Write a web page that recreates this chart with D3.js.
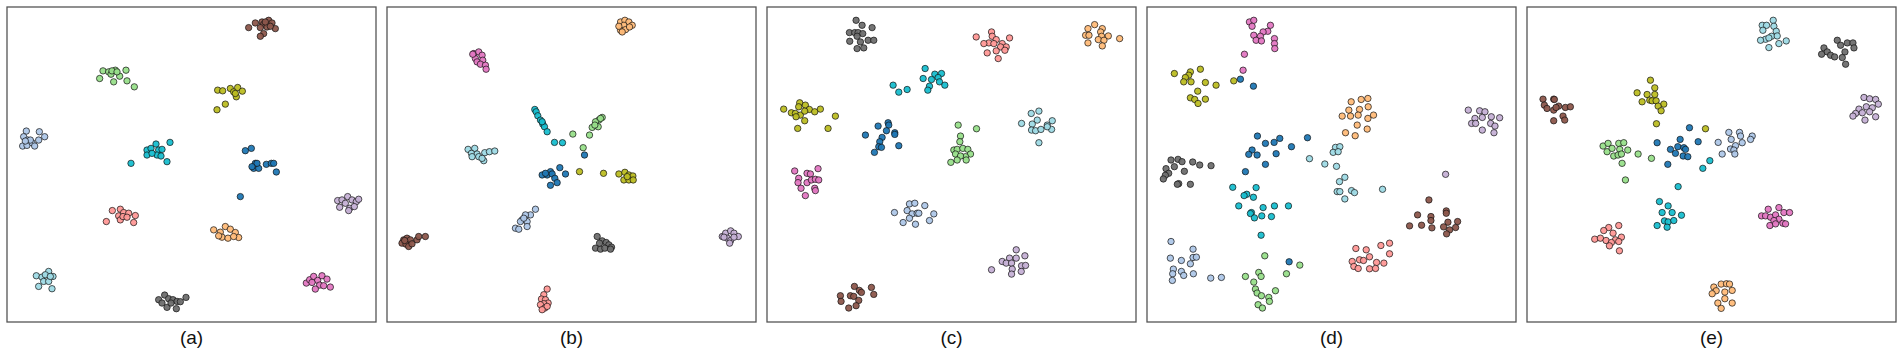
<!DOCTYPE html>
<html><head><meta charset="utf-8">
<script src="https://cdn.jsdelivr.net/npm/d3@7"></script>
<style>html,body{margin:0;padding:0;background:#fff;}</style>
</head><body>
<script>
// Class names and their colours (tab20-like palette)
const classNames = ["blue","cyan","lightblue","lightgreen","olive","brown","pink","gray","salmon","lightorange","lavender","lightcyan"];
const classColors = ["#1f77b4","#17becf","#aec7e8","#98df8a","#bcbd22","#8c564b","#e377c2","#6e6e6e","#ff9896","#ffbb78","#c5b0d5","#9edae5"];
const panelLabels = ["(a)","(b)","(c)","(d)","(e)"];
// embedding coordinate ranges of each panel
const panelXDomains = [[20,1127],[35,1141],[35,1141],[35,1141],[45,1151]];
const panelYDomains = [[20,967],[20,967],[20,967],[20,967],[20,967]];

// Panel (a)
const embA = {
  brown:[[745,82],[765,68],[785,65],[805,60],[815,68],[790,72],[780,82],[800,80],[825,85],[810,78],[790,100],[780,108],[795,65]],
  lightgreen:[[298,235],[308,212],[325,215],[332,222],[345,210],[358,228],[340,245],[377,210],[380,242],[402,260],[335,212],[350,215]],
  olive:[[652,270],[667,272],[690,265],[700,275],[712,262],[708,290],[726,273],[675,312],[650,329],[705,280]],
  lightblue:[[78,393],[70,410],[82,420],[67,438],[80,436],[95,428],[103,438],[115,420],[117,395],[133,410],[90,420],[75,423]],
  cyan:[[440,450],[440,465],[452,445],[467,432],[475,450],[470,465],[485,448],[482,468],[509,427],[500,485],[392,490],[455,460]],
  blue:[[735,452],[753,445],[765,490],[760,505],[775,505],[770,490],[798,493],[813,490],[820,490],[828,516],[720,590],[755,500]],
  lavender:[[1012,602],[1025,600],[1042,590],[1055,600],[1068,605],[1075,598],[1035,610],[1048,625],[1018,622],[1045,632],[1062,620]],
  salmon:[[318,665],[336,632],[360,628],[370,638],[385,640],[405,647],[355,648],[360,660],[368,650],[400,668],[380,652]],
  lightorange:[[640,690],[660,697],[675,680],[690,688],[705,698],[715,713],[665,712],[655,708],[683,715],[700,710]],
  lightcyan:[[108,828],[125,832],[145,815],[158,830],[130,845],[115,860],[145,845],[155,867],[135,825],[150,830]],
  gray:[[475,900],[493,886],[505,897],[518,900],[530,905],[540,906],[557,893],[500,923],[528,927],[485,910],[512,910]],
  pink:[[918,850],[928,840],[940,830],[952,842],[965,828],[980,838],[958,856],[970,858],[945,868],[990,862],[935,848]]
};

// Panel (b)
const embB = {
  lightorange:[[735,65],[748,60],[760,65],[770,75],[745,75],[735,90],[750,88],[762,80],[730,78],[740,95]],
  pink:[[295,160],[310,155],[320,165],[300,175],[322,180],[305,185],[315,192],[330,195],[332,207],[292,162]],
  cyan:[[478,328],[482,335],[487,347],[495,360],[502,372],[507,380],[515,395],[500,365],[537,427],[561,428]],
  lightgreen:[[680,352],[670,360],[660,365],[668,380],[650,382],[642,405],[592,402],[623,443],[675,355],[658,375]],
  lightcyan:[[278,448],[298,445],[288,460],[305,462],[310,470],[290,470],[325,482],[328,458],[342,455],[358,453],[320,475]],
  blue:[[627,465],[500,525],[515,525],[525,515],[530,522],[553,503],[538,535],[545,548],[525,556],[570,522],[510,520]],
  olive:[[612,515],[684,520],[730,522],[748,517],[760,525],[772,528],[745,540],[760,540],[773,540],[755,530]],
  lightblue:[[480,628],[465,645],[450,645],[440,660],[435,665],[455,665],[420,685],[430,688],[455,680],[445,655]],
  brown:[[85,720],[95,715],[105,720],[80,730],[92,733],[100,740],[110,732],[125,720],[130,710],[150,710],[88,722]],
  gray:[[665,710],[680,723],[692,728],[700,735],[708,742],[660,745],[675,748],[688,745],[705,748],[672,730]],
  lavender:[[1040,710],[1050,700],[1065,693],[1075,700],[1088,710],[1055,715],[1065,722],[1075,712],[1062,730],[1045,712]],
  salmon:[[515,868],[505,885],[498,898],[510,900],[518,910],[505,912],[495,915],[508,925],[515,920],[500,930]]
};

// Panel (c)
const embC = {
  gray:[[302,60],[320,75],[350,82],[282,97],[298,97],[308,97],[322,100],[305,108],[283,123],[315,125],[338,120],[355,120],[305,145],[325,143]],
  salmon:[[662,110],[708,95],[710,108],[700,128],[685,130],[722,118],[740,130],[752,140],[762,113],[735,140],[722,152],[748,150],[695,158],[728,175],[715,130]],
  lightorange:[[997,85],[1017,73],[1040,85],[1035,95],[990,105],[1000,105],[1038,108],[1058,107],[1092,115],[1028,118],[1045,120],[997,128],[1040,137]],
  cyan:[[509,205],[538,222],[558,220],[503,235],[528,238],[548,232],[552,245],[568,255],[522,258],[517,270],[413,255],[430,276],[455,268]],
  olive:[[85,327],[108,338],[120,340],[135,345],[133,308],[130,320],[150,315],[162,328],[178,335],[195,327],[240,348],[122,350],[148,362],[127,385],[218,385],[148,333]],
  blue:[[368,378],[398,368],[400,375],[393,392],[418,398],[418,403],[330,405],[380,412],[373,425],[370,440],[378,442],[430,437],[357,457]],
  lightgreen:[[608,375],[663,386],[615,408],[613,425],[595,450],[605,448],[622,445],[637,448],[645,462],[630,470],[600,462],[615,468],[605,480],[586,487],[632,480]],
  lightcyan:[[827,340],[850,333],[845,360],[830,372],[798,370],[875,375],[890,362],[828,390],[840,392],[856,388],[888,388],[850,428],[875,380]],
  pink:[[118,513],[188,506],[155,520],[165,522],[130,535],[128,548],[155,548],[168,540],[180,538],[190,540],[137,565],[178,565],[180,572],[150,587]],
  lightblue:[[462,612],[478,610],[508,617],[455,632],[470,642],[485,640],[490,640],[535,642],[417,638],[443,668],[462,655],[480,673],[522,662]],
  lavender:[[782,750],[762,775],[782,775],[808,768],[740,785],[752,790],[768,790],[798,798],[810,797],[708,810],[770,808],[797,815],[768,823]],
  brown:[[297,860],[348,863],[312,872],[318,878],[255,888],[285,888],[295,890],[355,884],[257,905],[310,902],[302,918],[280,925]]
};

// Panel (d)
const embD = {
  pink:[[342,65],[355,60],[350,78],[405,75],[397,93],[383,95],[355,105],[375,108],[362,120],[378,122],[417,115],[417,130],[418,145],[327,162],[323,210]],
  olive:[[117,220],[195,207],[165,215],[160,225],[150,232],[145,245],[167,245],[210,247],[242,255],[187,273],[165,293],[178,298],[188,310],[210,297],[295,242]],
  lightorange:[[647,305],[677,298],[697,295],[640,330],[672,328],[698,320],[620,348],[645,348],[668,345],[697,355],[714,345],[665,375],[630,398],[659,407],[695,387]],
  lavender:[[998,330],[1032,332],[1048,335],[1018,355],[1040,352],[1067,350],[1092,353],[1008,370],[1020,370],[1065,370],[1078,378],[1040,390],[1075,398],[930,523]],
  blue:[[315,237],[354,258],[366,408],[390,430],[416,427],[433,415],[468,440],[516,413],[350,450],[340,463],[365,465],[422,461],[390,493],[330,515],[461,786]],
  lightcyan:[[600,442],[613,440],[593,457],[608,455],[522,476],[568,492],[603,499],[628,532],[612,545],[605,575],[613,575],[648,572],[657,578],[628,597],[741,568]],
  gray:[[107,480],[128,478],[140,485],[172,486],[193,495],[227,497],[92,506],[117,500],[100,520],[147,514],[90,526],[84,537],[130,551],[126,553],[165,553]],
  cyan:[[292,562],[362,563],[334,583],[326,587],[354,592],[310,618],[383,623],[417,618],[459,618],[348,638],[345,641],[379,648],[357,654],[408,650],[377,706]],
  brown:[[880,600],[932,633],[932,640],[846,645],[886,650],[886,662],[937,667],[966,665],[822,678],[858,676],[889,684],[924,681],[942,690],[960,683],[933,702]],
  salmon:[[661,746],[692,750],[736,737],[762,730],[702,771],[762,762],[672,780],[684,782],[650,785],[723,788],[745,790],[655,800],[668,806],[702,807],[720,806]],
  lightblue:[[107,725],[173,748],[105,775],[138,782],[173,773],[183,772],[165,792],[114,808],[138,815],[112,822],[145,827],[174,822],[226,835],[258,833],[111,842]],
  lightgreen:[[388,768],[493,796],[453,822],[370,818],[377,830],[330,830],[355,847],[360,868],[365,880],[378,888],[420,873],[400,893],[402,905],[368,915],[381,925]]
};

// Panel (e)
const embE = {
  lightcyan:[[750,75],[763,75],[783,60],[785,78],[752,90],[792,93],[778,108],[795,107],[760,117],[745,120],[770,113],[800,130],[822,122],[770,142]],
  gray:[[975,120],[985,135],[1005,128],[1022,128],[1025,143],[935,143],[945,155],[928,162],[955,165],[967,170],[998,155],[990,172],[1000,192]],
  lavender:[[1055,292],[1072,296],[1090,298],[1098,312],[1040,327],[1062,320],[1080,323],[1030,340],[1050,338],[1072,335],[1022,348],[1090,350],[1058,360]],
  brown:[[93,297],[125,297],[127,298],[97,315],[105,325],[140,318],[125,330],[132,322],[160,322],[175,320],[153,348],[125,362],[158,360]],
  olive:[[415,240],[428,263],[375,278],[405,283],[428,283],[390,305],[413,300],[420,302],[432,302],[455,312],[438,318],[447,332],[433,371],[580,386]],
  blue:[[532,383],[504,418],[558,425],[435,428],[497,440],[475,448],[515,443],[520,448],[490,460],[513,468],[527,470],[467,493]],
  lightblue:[[650,397],[682,397],[720,408],[657,418],[685,408],[715,418],[618,427],[690,428],[670,437],[655,447],[665,450],[630,462],[668,462]],
  lightgreen:[[273,438],[288,430],[320,430],[335,428],[285,455],[300,445],[323,448],[305,468],[318,465],[328,462],[347,450],[378,462],[418,475],[330,490],[340,540]],
  cyan:[[593,482],[572,505],[498,560],[442,605],[468,618],[450,638],[480,638],[508,646],[457,663],[468,666],[485,662],[435,677],[465,682]],
  pink:[[768,628],[800,623],[815,638],[832,638],[748,648],[760,648],[775,652],[790,645],[800,658],[785,662],[812,670],[820,672],[773,677],[790,672]],
  salmon:[[320,677],[290,683],[275,692],[303,700],[248,718],[265,715],[282,722],[310,720],[328,712],[298,728],[320,725],[292,738],[322,753]],
  lightorange:[[627,853],[643,852],[652,853],[605,862],[612,873],[600,882],[638,877],[660,872],[638,897],[660,910],[617,910],[627,926]]
};

const panels = [embA, embB, embC, embD, embE];

const W = 1902, H = 353;
const panelLeft0 = 7, panelStep = 380, panelW = 369, panelTop = 7, panelH = 315;

const svg = d3.select("body").append("svg").attr("width", W).attr("height", H)
  .style("font-family", "'Liberation Sans', Arial, Helvetica, sans-serif");

const color = d3.scaleOrdinal().domain(classNames).range(classColors);

panels.forEach((emb, i) => {
  const x0 = panelLeft0 + panelStep * i;
  const x = d3.scaleLinear().domain(panelXDomains[i]).range([x0, x0 + panelW]);
  const y = d3.scaleLinear().domain(panelYDomains[i]).range([panelTop, panelTop + panelH]);
  const g = svg.append("g");
  const pts = [];
  classNames.forEach(c => { (emb[c] || []).forEach(p => pts.push({c, x: p[0], y: p[1]})); });
  g.selectAll("circle").data(pts).join("circle")
    .attr("cx", d => x(d.x)).attr("cy", d => y(d.y)).attr("r", 3.2)
    .attr("fill", d => color(d.c)).attr("fill-opacity", 0.95)
    .attr("stroke", "#111").attr("stroke-width", 0.7);
  g.append("rect").attr("x", x0).attr("y", panelTop).attr("width", panelW).attr("height", panelH)
    .attr("fill", "none").attr("stroke", "#555").attr("stroke-width", 1.3);
  svg.append("text").attr("x", x0 + panelW / 2).attr("y", 344).attr("text-anchor", "middle")
    .attr("font-size", 19).attr("fill", "#111").text(panelLabels[i]);
});
</script>
</body></html>
